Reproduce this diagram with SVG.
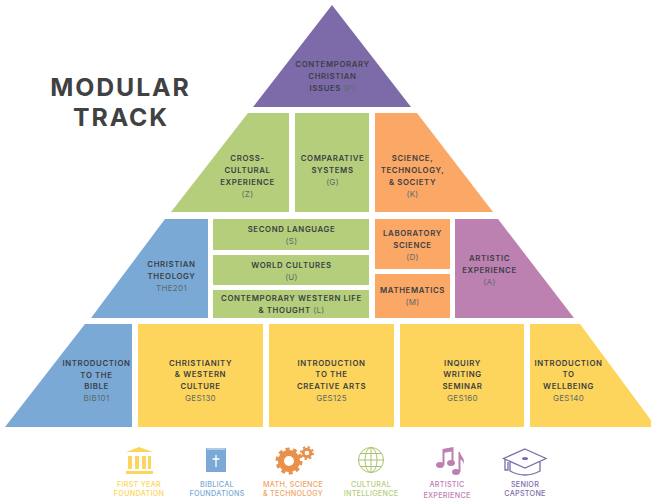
<svg xmlns="http://www.w3.org/2000/svg" width="651" height="500" viewBox="0 0 651 500">
<style>
text{font-family:"Inter","Liberation Sans",sans-serif;text-anchor:middle}
.l{font-size:7.8px;font-weight:600;fill:#3b3f45;letter-spacing:.62px}
.c{font-size:8px;font-weight:400;fill:#5d6a68;letter-spacing:.3px}
.t{font-size:24.8px;font-weight:700;fill:#3f4143;letter-spacing:1.9px}
.k{font-size:7.2px;font-weight:500;letter-spacing:.28px}
.y{fill:#fdd55c}.b{fill:#7aa9d5}.g{fill:#b5ce7b}.o{fill:#fba765}.m{fill:#bc80b1}.p{fill:#7d6ba9}
</style>
<rect width="651" height="500" fill="#fff"/>
<g id="title"><text class="t" x="120.500" y="96">MODULAR</text><text class="t" x="121" y="126">TRACK</text></g>

<g id="node-p"><polygon class="p" points="332,5 411,107 253,107"/><text class="l" x="332.500" y="67">CONTEMPORARY</text><text class="l" x="332.500" y="79">CHRISTIAN</text><text class="l" x="332.500" y="91">ISSUES <tspan class="c">(P)</tspan></text></g>

<g id="node-z"><polygon class="g" points="248,113 289,113 289,212 171,212"/><text class="l" x="247.500" y="161">CROSS-</text><text class="l" x="247.500" y="173">CULTURAL</text><text class="l" x="247.500" y="185">EXPERIENCE</text><text class="c" x="247.500" y="197">(Z)</text></g>
<g id="node-g"><rect class="g" x="295" y="113" width="74" height="99"/><text class="l" x="332.500" y="161">COMPARATIVE</text><text class="l" x="332.500" y="173">SYSTEMS</text><text class="c" x="332.500" y="185">(G)</text></g>
<g id="node-k"><polygon class="o" points="375,113 417,113 493,212 375,212"/><text class="l" x="412.500" y="161">SCIENCE,</text><text class="l" x="412.500" y="173">TECHNOLOGY,</text><text class="l" x="412.500" y="185">&amp; SOCIETY</text><text class="c" x="412.500" y="197">(K)</text></g>

<g id="node-the201"><polygon class="b" points="165,219 208,219 208,318 91,318"/><text class="l" x="171.500" y="267">CHRISTIAN</text><text class="l" x="171.500" y="279">THEOLOGY</text><text class="c" x="171.500" y="291">THE201</text></g>
<g id="node-s"><rect class="g" x="213" y="219" width="156" height="31"/><text class="l" x="291.500" y="232">SECOND LANGUAGE</text><text class="c" x="291.500" y="244">(S)</text></g>
<g id="node-u"><rect class="g" x="213" y="255" width="156" height="30"/><text class="l" x="291.500" y="268">WORLD CULTURES</text><text class="c" x="291.500" y="280">(U)</text></g>
<g id="node-l"><rect class="g" x="213" y="290" width="156" height="28"/><text class="l" x="291.500" y="301">CONTEMPORARY WESTERN LIFE</text><text class="l" x="291.500" y="313">&amp; THOUGHT <tspan class="c">(L)</tspan></text></g>
<g id="node-d"><rect class="o" x="375" y="219" width="75" height="50"/><text class="l" x="412.500" y="236">LABORATORY</text><text class="l" x="412.500" y="248">SCIENCE</text><text class="c" x="412.500" y="260">(D)</text></g>
<g id="node-m"><rect class="o" x="375" y="274" width="75" height="44"/><text class="l" x="412.500" y="293">MATHEMATICS</text><text class="c" x="412.500" y="305">(M)</text></g>
<g id="node-a"><polygon class="m" points="455,219 498,219 574,318 455,318"/><text class="l" x="489.500" y="261">ARTISTIC</text><text class="l" x="489.500" y="273">EXPERIENCE</text><text class="c" x="489.500" y="285">(A)</text></g>

<g id="node-bib101"><polygon class="b" points="85,324 132,324 132,427 5,427"/><text class="l" x="96.500" y="366">INTRODUCTION</text><text class="l" x="96.500" y="378">TO THE</text><text class="l" x="96.500" y="389">BIBLE</text><text class="c" x="96.500" y="401">BIB101</text></g>
<g id="node-ges130"><rect class="y" x="138" y="324" width="125" height="103"/><text class="l" x="200.500" y="366">CHRISTIANITY</text><text class="l" x="200.500" y="377">&amp; WESTERN</text><text class="l" x="200.500" y="389">CULTURE</text><text class="c" x="200.500" y="401">GES130</text></g>
<g id="node-ges125"><rect class="y" x="269" y="324" width="125" height="103"/><text class="l" x="331.500" y="366">INTRODUCTION</text><text class="l" x="331.500" y="377">TO THE</text><text class="l" x="331.500" y="389">CREATIVE ARTS</text><text class="c" x="331.500" y="401">GES125</text></g>
<g id="node-ges160"><rect class="y" x="400" y="324" width="124" height="103"/><text class="l" x="462.500" y="366">INQUIRY</text><text class="l" x="462.500" y="377">WRITING</text><text class="l" x="462.500" y="389">SEMINAR</text><text class="c" x="462.500" y="401">GES160</text></g>
<g id="node-ges140"><polygon class="y" points="530,324 580,324 656,427 530,427"/><text class="l" x="568.500" y="366">INTRODUCTION</text><text class="l" x="568.500" y="377">TO</text><text class="l" x="568.500" y="389">WELLBEING</text><text class="c" x="568.500" y="401">GES140</text></g>

<g id="legend-first-year">
<path class="y" d="M126 452L139 447L153 452ZM128 456h4v13h-4zM135 456h4v13h-4zM142 456h4v13h-4zM148 456h3v13h-3zM126 471h27v3h-27z"/>
<text class="k y" x="139" y="487">FIRST YEAR</text><text class="k y" x="139" y="496">FOUNDATION</text></g>
<g id="legend-biblical">
<rect class="b" x="206" y="448" width="20" height="24"/><path d="M207 449h18" stroke="#fff" stroke-width=".8"/><path d="M216 455v12M212.500 459h7" stroke="#fff" stroke-width="1.300" fill="none"/>
<text class="k b" x="217" y="487">BIBLICAL</text><text class="k b" x="217" y="496">FOUNDATIONS</text></g>
<g id="legend-math">
<circle cx="289" cy="461" r="8" fill="none" stroke="#e9904a" stroke-width="6"/><circle cx="289" cy="461" r="12" fill="none" stroke="#e9904a" stroke-width="3" stroke-dasharray="4 3.540"/>
<circle cx="307" cy="453" r="3.800" fill="none" stroke="#e9904a" stroke-width="3"/><circle cx="307" cy="453" r="6" fill="none" stroke="#e9904a" stroke-width="2" stroke-dasharray="2.200 2.500"/>
<text class="k" fill="#f0a365" x="293" y="487">MATH, SCIENCE</text><text class="k" fill="#f0a365" x="293" y="496">&amp; TECHNOLOGY</text></g>
<g id="legend-cultural">
<g fill="none" stroke="#a9c46c" stroke-width="1"><circle cx="371" cy="460" r="12.500"/><ellipse cx="371" cy="460" rx="6" ry="12.500"/><path d="M371 447.500v25M358.500 460h25M360.500 453.500h21M360.500 466.500h21"/></g>
<text class="k g" x="371" y="487">CULTURAL</text><text class="k g" x="371" y="496">INTELLIGENCE</text></g>
<g id="legend-artistic">
<g fill="#bc80b1"><ellipse cx="440" cy="465" rx="4" ry="3"/><ellipse cx="451" cy="463" rx="4" ry="3"/><path d="M442.500 449l11-2v16h-2v-11.500l-7 1.300v12.200h-2z"/><ellipse cx="456" cy="472" rx="4" ry="3"/><path d="M458.500 452h1.500c.5 4 5 6 4 12-1-3-2.500-4-3.500-4.500v12.500h-2z"/></g>
<text class="k m" x="447" y="487">ARTISTIC</text><text class="k m" x="447" y="498">EXPERIENCE</text></g>
<g id="legend-senior">
<g fill="none" stroke="#7d6ba9" stroke-width="1.300"><path d="M525 449L546 458.500L525 468L503.500 458.500Z"/><path d="M510 461.500V471Q525 479 540 471V461.500"/><path d="M505 459V470h3V462"/></g><ellipse cx="525" cy="458.500" rx="3" ry="1.500" fill="#7d6ba9"/>
<text class="k p" x="525" y="487">SENIOR</text><text class="k p" x="525" y="496">CAPSTONE</text></g>
</svg>
